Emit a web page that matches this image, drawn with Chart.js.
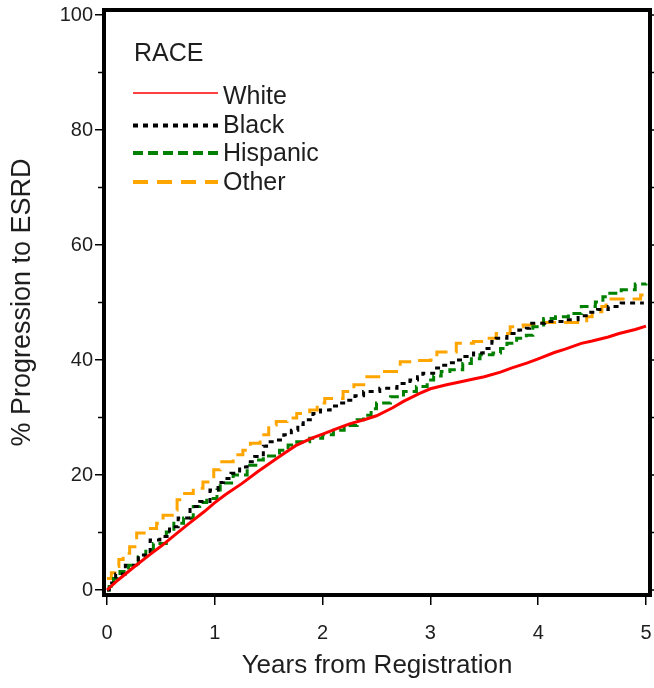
<!DOCTYPE html>
<html>
<head>
<meta charset="utf-8">
<title>Progression to ESRD by race</title>
<script src="https://cdn.jsdelivr.net/npm/chart.js@4.4.1/dist/chart.umd.min.js"></script>
<style>
  html, body { margin: 0; padding: 0; background: #ffffff; }
  #wrap { position: relative; width: 654px; height: 688px; }
</style>
</head>
<body>
<div id="wrap"><canvas id="chart"></canvas></div>
<script>
const FONT = '"Liberation Sans", Arial, Helvetica, sans-serif';
const TEXT = '#1e1e1e';

// Cumulative % progressing to ESRD, by years since registration
const raceGroups = ['White', 'Black', 'Hispanic', 'Other'];

const whiteYears = [0, 0.1, 0.25, 0.4, 0.5, 0.65, 0.75, 0.9, 1.0, 1.1, 1.25, 1.4, 1.5, 1.6, 1.75, 1.9, 2.0, 2.15, 2.25, 2.4, 2.5, 2.65, 2.75, 2.9, 3.0, 3.15, 3.25, 3.4, 3.5, 3.65, 3.75, 3.9, 4.0, 4.15, 4.25, 4.4, 4.5, 4.65, 4.75, 4.9, 5.0];
const whitePct   = [0, 1.7, 4.0, 6.2, 7.6, 9.9, 11.4, 13.6, 15.2, 16.6, 18.5, 20.6, 21.9, 23.2, 25.1, 26.4, 27.1, 28.2, 28.9, 29.7, 30.3, 31.7, 32.8, 34.2, 35.0, 35.7, 36.1, 36.7, 37.1, 37.9, 38.6, 39.5, 40.2, 41.3, 41.9, 42.9, 43.3, 44.0, 44.6, 45.3, 45.9];

const blackYears = [0, 0.02, 0.08, 0.17, 0.29, 0.4, 0.49, 0.58, 0.66, 0.77, 0.86, 0.955, 1.03, 1.08, 1.15, 1.23, 1.3, 1.37, 1.45, 1.48, 1.57, 1.64, 1.71, 1.77, 1.82, 1.91, 1.98, 2.07, 2.15, 2.22, 2.3, 2.38, 2.53, 2.69, 2.81, 2.88, 2.93, 3.03, 3.09, 3.17, 3.24, 3.32, 3.4, 3.49, 3.57, 3.61, 3.71, 3.82, 3.89, 3.92, 4.06, 4.25, 4.37, 4.46, 4.55, 4.65, 4.77, 4.98];
const blackPct   = [0, 1.2, 2.8, 4.3, 6.1, 8.7, 9.3, 11.0, 12.5, 14.5, 15.4, 17.4, 18.7, 19.4, 20.3, 21.4, 22.3, 23.2, 25.0, 25.8, 26.1, 27.0, 27.8, 28.8, 29.6, 30.7, 31.3, 32.0, 32.5, 33.0, 33.8, 34.5, 35.1, 35.9, 36.5, 37.1, 37.7, 38.6, 39.1, 39.5, 40.0, 40.6, 41.2, 42.0, 43.2, 43.8, 44.6, 45.2, 45.5, 46.4, 46.7, 47.0, 47.7, 48.3, 48.8, 49.3, 49.9, 49.9];

const hispanicYears = [0, 0.02, 0.06, 0.12, 0.2, 0.29, 0.36, 0.43, 0.55, 0.62, 0.71, 0.8, 0.86, 0.925, 1.02, 1.05, 1.17, 1.3, 1.38, 1.45, 1.6, 1.68, 1.76, 1.88, 2.0, 2.1, 2.2, 2.32, 2.38, 2.45, 2.5, 2.63, 2.75, 2.87, 2.97, 3.03, 3.1, 3.18, 3.3, 3.38, 3.46, 3.58, 3.65, 3.71, 3.8, 3.89, 3.95, 4.05, 4.16, 4.28, 4.4, 4.53, 4.6, 4.65, 4.77, 4.9, 5.0];
const hispanicPct   = [0, 0.6, 2.0, 3.2, 4.3, 5.8, 7.0, 8.1, 10.1, 11.6, 12.5, 14.5, 15.2, 15.9, 17.4, 18.6, 20.0, 21.7, 22.6, 23.3, 24.3, 25.2, 25.8, 26.4, 27.0, 27.8, 28.6, 29.6, 30.4, 31.5, 32.5, 33.6, 34.5, 35.4, 36.5, 37.2, 38.0, 38.3, 39.4, 40.2, 40.9, 41.2, 42.0, 42.9, 43.8, 44.3, 45.8, 47.2, 47.5, 48.1, 49.3, 50.1, 51.0, 51.6, 52.2, 53.2, 53.3];

const otherYears = [0, 0.04, 0.074, 0.11, 0.15, 0.21, 0.275, 0.37, 0.46, 0.52, 0.62, 0.65, 0.72, 0.8, 0.89, 0.99, 1.05, 1.17, 1.26, 1.33, 1.42, 1.5, 1.57, 1.67, 1.76, 1.88, 1.95, 2.02, 2.19, 2.29, 2.41, 2.56, 2.72, 2.84, 3.0, 3.06, 3.24, 3.4, 3.49, 3.61, 3.74, 3.86, 3.99, 4.45, 4.5, 4.59, 4.63, 4.95, 5.0];
const otherPct   = [2.0, 3.0, 4.1, 5.3, 6.4, 7.5, 9.9, 10.7, 11.6, 13.0, 13.9, 15.7, 16.8, 17.7, 18.8, 20.9, 22.3, 23.5, 24.3, 25.5, 27.0, 28.7, 29.3, 29.9, 30.7, 31.3, 32.5, 33.3, 34.5, 35.7, 37.1, 38.0, 39.7, 39.9, 40.0, 41.4, 42.9, 43.2, 43.8, 44.6, 45.8, 46.1, 46.5, 47.5, 48.4, 49.3, 50.6, 51.3, 51.3];

const xTickValues = [0, 1, 2, 3, 4, 5];
const yTickValues = [0, 20, 40, 60, 80, 100];
const yMinorTickValues = [10, 30, 50, 70, 90];
const rightTickValues = [0, 10, 20, 30, 40, 50, 60, 70, 80, 90, 100];

const toPoints = (xs, ys) => xs.map((x, i) => ({ x: x, y: ys[i] }));

// Boxed frame plus the extra tick marks (left minor ticks, right-side ticks)
const frameAndTicks = {
  id: 'frameAndTicks',
  afterDatasetsDraw(chart) {
    const { ctx, chartArea: a, scales } = chart;
    ctx.save();
    ctx.strokeStyle = '#000';
    ctx.lineWidth = 1.5;
    ctx.beginPath();
    yMinorTickValues.forEach(v => {
      const py = scales.y.getPixelForValue(v);
      ctx.moveTo(a.left, py); ctx.lineTo(a.left - 6, py);
    });
    rightTickValues.forEach(v => {
      const py = scales.y.getPixelForValue(v);
      ctx.moveTo(a.right, py); ctx.lineTo(a.right + 8, py);
    });
    ctx.stroke();
    ctx.lineWidth = 4;
    ctx.strokeRect(a.left, a.top, a.right - a.left, a.bottom - a.top);
    ctx.restore();
  }
};

// Legend box inside the plot, top-left
const raceLegend = {
  id: 'raceLegend',
  afterDraw(chart) {
    const { ctx, chartArea: a } = chart;
    ctx.save();
    ctx.font = '25px ' + FONT;
    ctx.fillStyle = TEXT;
    ctx.textAlign = 'left';
    ctx.textBaseline = 'middle';
    ctx.fillText('RACE', a.left + 30, a.top + 44);
    const lineRows = [83, 115.5, 143, 172];
    const textRows = [87.5, 116, 144.5, 173];
    chart.data.datasets.forEach((ds, i) => {
      const ly = a.top + lineRows[i];
      ctx.beginPath();
      ctx.strokeStyle = ds.borderColor;
      ctx.lineWidth = ds.legendLineWidth;
      ctx.setLineDash(ds.legendDash);
      ctx.moveTo(a.left + 29, ly);
      ctx.lineTo(a.left + 114, ly);
      ctx.stroke();
      ctx.setLineDash([]);
      ctx.fillText(ds.label, a.left + 119, a.top + textRows[i]);
    });
    ctx.restore();
  }
};

new Chart(document.getElementById('chart'), {
  type: 'line',
  data: {
    datasets: [
      {
        label: raceGroups[0], data: toPoints(whiteYears, whitePct),
        borderColor: '#ff0000', borderWidth: 3, stepped: false, tension: 0,
        legendLineWidth: 1.5, legendDash: []
      },
      {
        label: raceGroups[1], data: toPoints(blackYears, blackPct),
        borderColor: '#000000', borderWidth: 3, stepped: true, borderDash: [5, 5],
        legendLineWidth: 4, legendDash: [5, 5]
      },
      {
        label: raceGroups[2], data: toPoints(hispanicYears, hispanicPct),
        borderColor: '#008000', borderWidth: 3, stepped: true, borderDash: [9, 5],
        legendLineWidth: 4, legendDash: [10, 5]
      },
      {
        label: raceGroups[3], data: toPoints(otherYears, otherPct),
        borderColor: '#ffa500', borderWidth: 3, stepped: true, borderDash: [15, 8],
        legendLineWidth: 4, legendDash: [15, 9]
      }
    ]
  },
  options: {
    responsive: true,
    maintainAspectRatio: false,
    animation: false,
    events: [],
    layout: { padding: { top: 10, right: 4, bottom: 0, left: 0 } },
    elements: { point: { radius: 0 }, line: { borderCapStyle: 'butt', borderJoinStyle: 'miter', fill: false } },
    plugins: { legend: { display: false }, tooltip: { enabled: false } },
    scales: {
      x: {
        type: 'linear',
        min: -0.028,
        max: 5.037,
        afterBuildTicks: s => { s.ticks = xTickValues.map(v => ({ value: v })); },
        afterFit: s => { s.height = 93; s.paddingLeft = 0; s.paddingRight = 0; },
        grid: { drawOnChartArea: false, drawTicks: true, tickLength: 10, color: '#000', lineWidth: 1.5 },
        border: { display: false },
        ticks: { color: TEXT, font: { family: FONT, size: 20, lineHeight: 1 }, padding: 18, maxRotation: 0, autoSkip: false },
        title: { display: true, text: 'Years from Registration', color: TEXT, font: { family: FONT, size: 26, lineHeight: 1 }, padding: { top: 0, bottom: 9 } }
      },
      y: {
        type: 'linear',
        min: -0.87,
        max: 100.87,
        afterBuildTicks: s => { s.ticks = yTickValues.map(v => ({ value: v })); },
        afterFit: s => { s.width = 104; s.paddingTop = 0; s.paddingBottom = 0; },
        grid: { drawOnChartArea: false, drawTicks: true, tickLength: 9, color: '#000', lineWidth: 1.5 },
        border: { display: false },
        ticks: { color: TEXT, font: { family: FONT, size: 20, lineHeight: 1 }, padding: 2 },
        title: { display: true, text: '% Progression to ESRD', color: TEXT, font: { family: FONT, size: 27, lineHeight: 1 }, padding: { top: 9, bottom: 0 } }
      }
    }
  },
  plugins: [frameAndTicks, raceLegend]
});
</script>
</body>
</html>
